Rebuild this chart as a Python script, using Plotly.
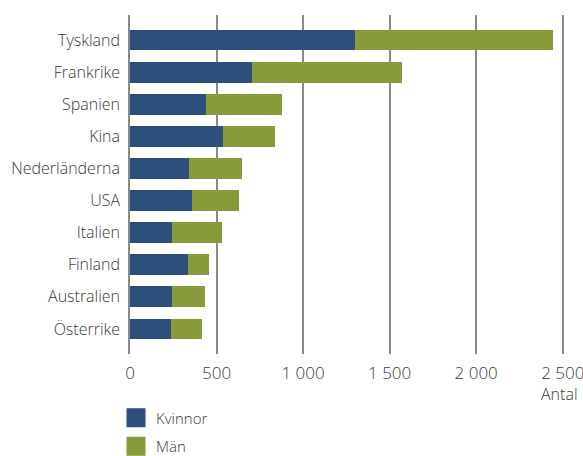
import plotly.graph_objects as go

countries = ["Tyskland", "Frankrike", "Spanien", "Kina", "Nederländerna",
             "USA", "Italien", "Finland", "Australien", "Österrike"]
kvinnor = [1300, 705, 439, 537, 341, 358, 243, 335, 243, 237]
man = [1144, 866, 439, 301, 306, 272, 289, 121, 190, 179]
x_ticks = [0, 500, 1000, 1500, 2000, 2500]
x_tick_labels = ["0", "500", "1 000", "1 500", "2 000", "2 500"]

FONT = "Open Sans"
TXT = "#3a3a3a"
C_K = "#2d4f7c"
C_M = "#879b3a"

fig = go.Figure()
fig.add_trace(go.Bar(y=countries, x=kvinnor, name="Kvinnor", orientation="h",
                     marker=dict(color=C_K, line=dict(width=0)), width=0.65,
                     showlegend=False))
fig.add_trace(go.Bar(y=countries, x=man, name="Män", orientation="h",
                     marker=dict(color=C_M, line=dict(width=0)), width=0.65,
                     showlegend=False))
# legend entries with larger square swatches
fig.add_trace(go.Scatter(x=[None], y=[None], mode="markers", name="Kvinnor",
                         legendgroup="k",
                         marker=dict(symbol="square", size=16, color=C_K,
                                     line=dict(color=C_K, width=3))))
fig.add_trace(go.Scatter(x=[None], y=[None], mode="markers", name="Män",
                         legendgroup="m",
                         marker=dict(symbol="square", size=16, color=C_M,
                                     line=dict(color=C_M, width=3))))

fig.update_layout(
    width=583, height=456,
    barmode="stack",
    plot_bgcolor="white", paper_bgcolor="white",
    margin=dict(l=130, r=18, t=15, b=102, autoexpand=False),
    font=dict(family=FONT, size=15, color=TXT, weight=300),
    showlegend=True,
    legend=dict(orientation="v", x=(116 - 130) / 435, y=-0.140,
                xanchor="left", yanchor="top",
                font=dict(size=15, color=TXT, weight=300), traceorder="grouped",
                itemsizing="trace",
                itemwidth=30, tracegroupgap=6, bgcolor="rgba(0,0,0,0)"),
    annotations=[dict(text="Antal", xref="paper", yref="paper", x=1.0345, y=-0.080,
                      xanchor="right", yanchor="top", showarrow=False,
                      font=dict(size=16, color=TXT, family=FONT, weight=300))],
)
fig.update_xaxes(range=[0, 2513], tickvals=x_ticks, ticktext=x_tick_labels,
                 showgrid=True, gridcolor="#8a8a8a", gridwidth=1.5,
                 zeroline=False, showline=False, automargin=False,
                 ticks="", ticklabelstandoff=7, ticklabeloverflow="allow",
                 tickfont=dict(size=17, color=TXT, weight=300),
                 fixedrange=True)
fig.update_yaxes(categoryorder="array", categoryarray=countries,
                 range=[9.78, -0.78], showgrid=False, zeroline=False,
                 showline=True, linecolor="#8a8a8a", linewidth=1.5,
                 automargin=False,
                 ticks="", ticklabelstandoff=5,
                 tickfont=dict(size=16, color=TXT, weight=300))

fig.write_html("out.html",
               config={"displayModeBar": False},
               post_script="document.body.style.margin='0px';"
                           "document.body.style.overflow='hidden';")
